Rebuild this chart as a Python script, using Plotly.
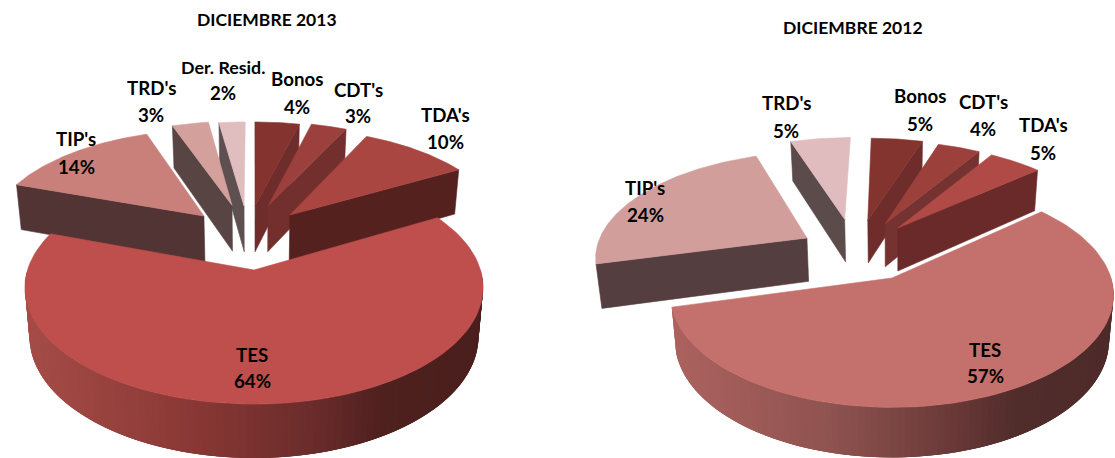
import math
import plotly.graph_objects as go

# ---- data -------------------------------------------------------------
categories_2013 = ["Bonos", "CDT's", "TDA's", "TES", "TIP's", "TRD's", "Der. Resid."]
values_2013 = [3.9, 3.2, 9.7, 63.6, 14.1, 3.2, 2.3]
title_2013 = "DICIEMBRE 2013"

categories_2012 = ["Bonos", "CDT's", "TDA's", "TES", "TIP's", "TRD's"]
values_2012 = [4.7, 3.9, 4.9, 57.4, 23.7, 5.4]
title_2012 = "DICIEMBRE 2012"

# ---- styling ----------------------------------------------------------
FONT = "Lato"
LABEL_SIZE = 18.7
TITLE_SIZE = 17.5
K = 0.15  # perspective strength

style_2013 = dict(
    title=(267, 19), cx=254, cy=270, rx=226.5, ry=114, depth=48.5,
    top=["#84332F", "#9B403C", "#AA4642", "#BE4F4D", "#C9807B", "#D4A09C", "#E0BEC0"],
    side=["#6E2C2B", "#732F2E", "#54211E", None, "#523435", "#584443", "#5E5050"],
    gradient=[(0, "#A54C47"), (0.35, "#8A3835"), (0.62, "#6A2C2B"), (0.78, "#4E201E"), (1, "#4A1F1D")],
    explode=[(0.005, -0.613), (0.0675, -0.613), (0.171, -0.52), (0, 0),
             (-0.238, -0.51), (-0.106, -0.62), (-0.048, -0.613)],
    draw=[0, 1, 2, 6, 5, 4, 3],
    labels=[(297, 79, 107), (358, 90, 116), (445, 115, 142), (252, 355, 381),
            (76, 139, 167), (151, 88, 115), (223, 67, 93)],
)
style_2012 = dict(
    title=(853, 27), cx=892, cy=278, rx=219, ry=110, depth=45,
    top=["#84342F", "#9C403C", "#B04A46", "#C4706D", "#D29E9B", "#E0BCBE"],
    side=["#6E2C2B", "#743230", "#6A2A2A", None, "#553E3F", "#5B4B4B"],
    gradient=[(0, "#AC625F"), (0.35, "#8F5350"), (0.62, "#6B3A38"), (0.78, "#502C2B"), (1, "#4E2B2A")],
    explode=[(-0.12, -0.57), (-0.034, -0.53), (0.029, -0.488), (0, 0),
             (-0.411, -0.385), (-0.235, -0.58)],
    draw=[0, 1, 2, 5, 4, 3],
    labels=[(920, 96, 124), (983, 102, 129), (1043, 125, 153), (985, 350, 376),
            (645, 188, 215), (786, 103, 131)],
)


def project(u, v, s, lower=False):
    w = 1 / (1 - K * v)
    x = s["cx"] + s["rx"] * u * w
    y = s["cy"] + s["ry"] * v * w
    if lower:
        x = s["cx"] + (x - s["cx"]) * 0.98
        y = y + s["depth"] * w ** 0.65
    return x, y


def hex_rgb(c):
    return [int(c[i:i + 2], 16) for i in (1, 3, 5)]


def ramp(stops, t):
    t = max(0, min(1, t))
    for (t0, c0), (t1, c1) in zip(stops, stops[1:]):
        if t <= t1:
            f = (t - t0) / (t1 - t0)
            a, b = hex_rgb(c0), hex_rgb(c1)
            return "rgb(%d,%d,%d)" % tuple(round(p + (q - p) * f) for p, q in zip(a, b))
    return stops[-1][1]


def polygon(fig, pts, color, name, edge=0.6):
    xs = [p[0] for p in pts] + [pts[0][0]]
    ys = [p[1] for p in pts] + [pts[0][1]]
    fig.add_trace(go.Scatter(x=xs, y=ys, mode="lines", fill="toself", fillcolor=color,
                             line=dict(color=color, width=edge), name=name,
                             hoverinfo="name", showlegend=False))


def rim(a0, a1, ex, s, lower, n):
    out = []
    for i in range(n + 1):
        a = a0 + (a1 - a0) * i / n
        out.append(project(ex[0] + math.sin(a), ex[1] - math.cos(a), s, lower))
    return out


def draw_pie(fig, cats, vals, s):
    total = sum(vals)
    bounds = [0]
    for val in vals:
        bounds.append(bounds[-1] + val / total * 2 * math.pi)
    for i in s["draw"]:
        a0, a1 = bounds[i], bounds[i + 1]
        ex = s["explode"][i]
        apex = project(ex[0], ex[1], s)
        apex_low = project(ex[0], ex[1], s, True)
        if s["side"][i] is None:
            # curved outer wall, shaded left to right: each strip overlaps the
            # next one so that no seam shows
            start, end = max(a0, math.pi / 2), min(a1, 3 * math.pi / 2)
            n = 110
            xl, xr = s["cx"] - s["rx"] * 1.01, s["cx"] + s["rx"] * 1.01
            step = (end - start) / n
            for j in range(n):
                b0 = start + step * j
                b1 = min(end, b0 + step * 3)
                t_pts = rim(b0, b1, ex, s, False, 3)
                l_pts = rim(b0, b1, ex, s, True, 3)
                mx = t_pts[1][0]
                col = ramp(s["gradient"], (mx - xl) / (xr - xl))
                polygon(fig, t_pts + l_pts[::-1], col, cats[i] + " lateral", edge=0)
        else:
            edge = a1 if (a0 + a1) / 2 < math.pi else a0
            outer = project(ex[0] + math.sin(edge), ex[1] - math.cos(edge), s)
            outer_low = project(ex[0] + math.sin(edge), ex[1] - math.cos(edge), s, True)
            polygon(fig, [apex, outer, outer_low, apex_low], s["side"][i], cats[i] + " lateral")
        polygon(fig, [apex] + rim(a0, a1, ex, s, False, 100), s["top"][i], cats[i])


def text(fig, x, y, t, size=LABEL_SIZE):
    fig.add_annotation(x=x, y=y, xref="x", yref="y", text=t, showarrow=False,
                       xanchor="center", yanchor="middle",
                       font=dict(family=FONT, size=size, color="#000000", weight=700))


def add_labels(fig, cats, vals, s, title):
    total = sum(vals)
    for cat, val, (x, y1, y2) in zip(cats, vals, s["labels"]):
        size = 17.8 if cat.startswith("Der") else LABEL_SIZE
        text(fig, x, y1, cat, size)
        text(fig, x, y2, "%d%%" % round(val / total * 100), LABEL_SIZE)
    text(fig, s["title"][0], s["title"][1], title, TITLE_SIZE)


fig = go.Figure()
draw_pie(fig, categories_2013, values_2013, style_2013)
draw_pie(fig, categories_2012, values_2012, style_2012)
add_labels(fig, categories_2013, values_2013, style_2013, title_2013)
add_labels(fig, categories_2012, values_2012, style_2012, title_2012)

fig.update_layout(
    width=1115, height=458, margin=dict(l=0, r=0, t=0, b=0),
    paper_bgcolor="white", plot_bgcolor="white", showlegend=False,
    xaxis=dict(range=[0, 1115], visible=False, fixedrange=True),
    yaxis=dict(range=[458, 0], visible=False, fixedrange=True),
)
fig.write_html("out.html", config=dict(displayModeBar=False),
               post_script="document.body.style.margin='0';")
